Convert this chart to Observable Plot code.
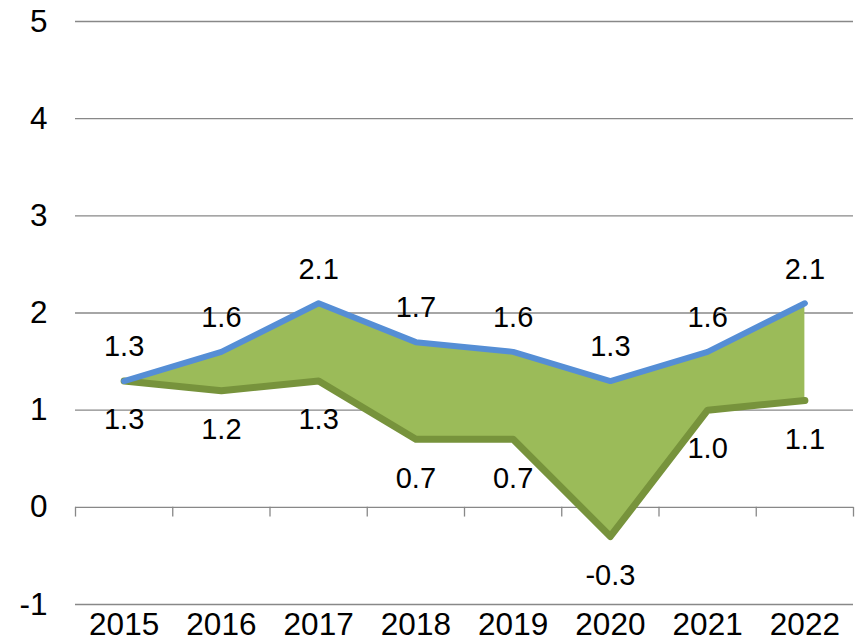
<!DOCTYPE html>
<html>
<head>
<meta charset="utf-8">
<script src="https://cdn.jsdelivr.net/npm/d3@7"></script>
<script src="https://cdn.jsdelivr.net/npm/@observablehq/plot@0.6"></script>
<style>
  html, body { margin: 0; padding: 0; background: #fff; }
  #chart svg text { font-family: "Liberation Sans", Arial, sans-serif; fill: #000; }
</style>
</head>
<body>
<div id="chart"></div>
<script>
const years = [2015, 2016, 2017, 2018, 2019, 2020, 2021, 2022];
const upper = [1.3, 1.6, 2.1, 1.7, 1.6, 1.3, 1.6, 2.1];
const lower = [1.3, 1.2, 1.3, 0.7, 0.7, -0.3, 1.0, 1.1];
const yTicks = [-1, 0, 1, 2, 3, 4, 5];

const data = years.map((year, i) => ({year, high: upper[i], low: lower[i]}));
const bounds = d3.range(years.length + 1).map(i => years[0] - 0.5 + i);
const fmt = v => v.toFixed(1);

const chart = Plot.plot({
  width: 864,
  height: 641,
  marginLeft: 75,
  marginRight: 11,
  marginTop: 21,
  marginBottom: 37,
  style: {fontFamily: "Liberation Sans, Arial, sans-serif", fontSize: "31.5px", color: "#000", background: "#fff"},
  x: {domain: [years[0] - 0.5, years[years.length - 1] + 0.5], ticks: years, tickSize: 0, tickPadding: 8, tickFormat: d => String(d), label: null},
  y: {domain: [-1, 5], ticks: yTicks, tickSize: 0, tickPadding: 28, tickFormat: d => String(d), label: null},
  marks: [
    Plot.ruleY(yTicks, {stroke: "#888", strokeWidth: 1.3}),
    Plot.ruleX(bounds, {y1: 0, y2: -0.1, stroke: "#888", strokeWidth: 1.3}),
    Plot.areaY(data, {x: "year", y1: "low", y2: "high", fill: "#9bbb59"}),
    Plot.line(data, {x: "year", y: "low", stroke: "#77933c", strokeWidth: 7, strokeLinejoin: "round", strokeLinecap: "round"}),
    Plot.line(data, {x: "year", y: "high", stroke: "#558ed5", strokeWidth: 6, strokeLinejoin: "round", strokeLinecap: "round"}),
    Plot.text(data, {x: "year", y: "high", text: d => fmt(d.high), dy: -34, fill: "#000", fontSize: 29}),
    Plot.text(data, {x: "year", y: "low", text: d => fmt(d.low), dy: 39, fill: "#000", fontSize: 29})
  ]
});
document.getElementById("chart").appendChild(chart);
</script>
</body>
</html>
